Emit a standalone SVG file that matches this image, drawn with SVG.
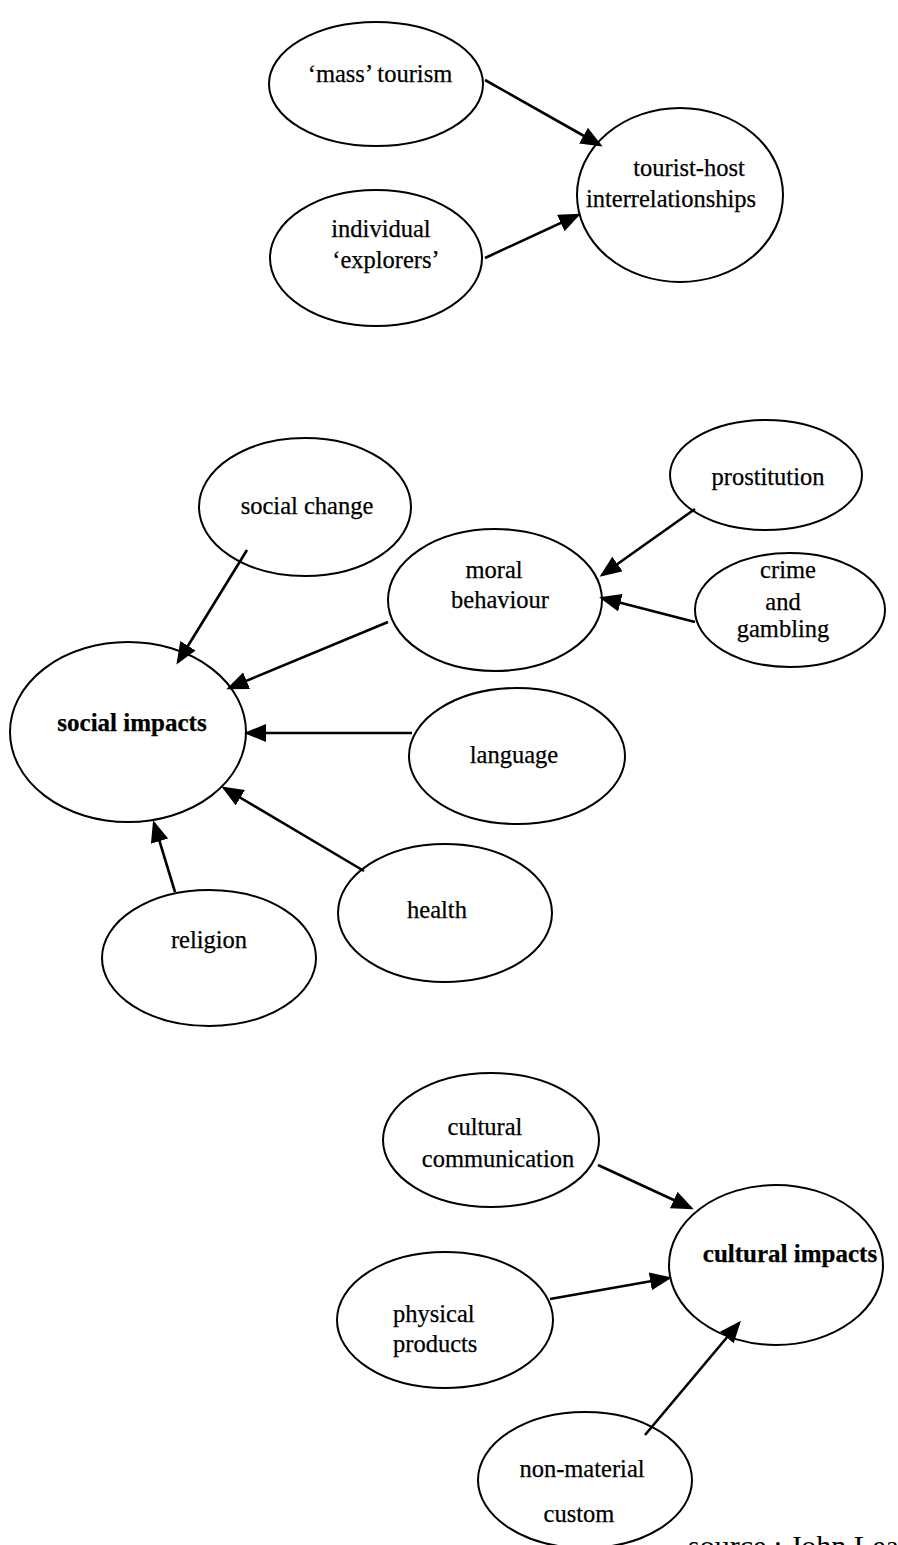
<svg xmlns="http://www.w3.org/2000/svg" width="898" height="1545" viewBox="0 0 898 1545">
<style>
  .node ellipse { fill: #ffffff; stroke: #000000; stroke-width: 2; }
  .node text { font-family: "Liberation Serif", "Times New Roman", serif; font-size: 24.5px; fill: #000000; stroke: #000000; stroke-width: 0.25; text-anchor: middle; }
  .node text.b { font-weight: bold; font-size: 25px; }
  .node text.l { text-anchor: start; }
  #connectors line { stroke: #000000; stroke-width: 2.6; marker-end: url(#arrow); }
  .src { font-family: "Liberation Serif", "Times New Roman", serif; font-size: 30px; fill: #000000; }
</style>
<defs>
  <marker id="arrow" markerUnits="userSpaceOnUse" markerWidth="24" markerHeight="20" refX="19" refY="9" orient="auto">
    <path d="M0,0 L22,9 L0,18 z" fill="#000000"/>
  </marker>
</defs>
<rect width="898" height="1545" fill="#ffffff"/>

<g id="mass-tourism" class="node">
  <ellipse cx="376" cy="84" rx="107" ry="62"/>
  <text x="380" y="82">‘mass’ tourism</text>
</g>
<g id="individual-explorers" class="node">
  <ellipse cx="376" cy="258" rx="106" ry="68"/>
  <text x="381" y="237">individual</text>
  <text x="386" y="268">‘explorers’</text>
</g>
<g id="tourist-host" class="node">
  <ellipse cx="680" cy="195" rx="103" ry="87"/>
  <text x="689" y="176">tourist-host</text>
  <text x="671" y="207">interrelationships</text>
</g>

<g id="social-change" class="node">
  <ellipse cx="305" cy="507" rx="106" ry="69"/>
  <text x="307" y="514">social change</text>
</g>
<g id="prostitution" class="node">
  <ellipse cx="766" cy="475" rx="96" ry="55"/>
  <text x="768" y="485">prostitution</text>
</g>
<g id="moral-behaviour" class="node">
  <ellipse cx="495" cy="600" rx="107" ry="71"/>
  <text x="494" y="578">moral</text>
  <text x="500" y="608">behaviour</text>
</g>
<g id="crime-gambling" class="node">
  <ellipse cx="790" cy="610" rx="95" ry="57"/>
  <text x="788" y="578">crime</text>
  <text x="783" y="610">and</text>
  <text x="783" y="637">gambling</text>
</g>
<g id="social-impacts" class="node">
  <ellipse cx="128" cy="732" rx="118" ry="90"/>
  <text class="b" x="132" y="731">social impacts</text>
</g>
<g id="language" class="node">
  <ellipse cx="517" cy="756" rx="108" ry="68"/>
  <text x="514" y="763">language</text>
</g>
<g id="health" class="node">
  <ellipse cx="445" cy="913" rx="107" ry="69"/>
  <text x="437" y="918">health</text>
</g>
<g id="religion" class="node">
  <ellipse cx="209" cy="958" rx="107" ry="68"/>
  <text x="209" y="948">religion</text>
</g>

<g id="cultural-communication" class="node">
  <ellipse cx="491" cy="1140" rx="108" ry="67"/>
  <text x="485" y="1135">cultural</text>
  <text x="498" y="1167">communication</text>
</g>
<g id="cultural-impacts" class="node">
  <ellipse cx="776" cy="1265" rx="107" ry="80"/>
  <text class="b" x="790" y="1262">cultural impacts</text>
</g>
<g id="physical-products" class="node">
  <ellipse cx="445" cy="1320" rx="108" ry="68"/>
  <text class="l" x="393" y="1322">physical</text>
  <text class="l" x="393" y="1352">products</text>
</g>
<g id="non-material-custom" class="node">
  <ellipse cx="585" cy="1480" rx="107" ry="68"/>
  <text x="582" y="1477">non-material</text>
  <text x="579" y="1522">custom</text>
</g>

<g id="connectors">
  <line x1="485" y1="80" x2="600" y2="145"/>
  <line x1="485" y1="258" x2="578" y2="215"/>
  <line x1="247" y1="550" x2="178" y2="662"/>
  <line x1="388" y1="622" x2="229" y2="688"/>
  <line x1="695" y1="509" x2="602" y2="575"/>
  <line x1="695" y1="622" x2="602" y2="598"/>
  <line x1="412" y1="733" x2="247" y2="733"/>
  <line x1="364" y1="871" x2="224" y2="788"/>
  <line x1="175" y1="892" x2="154" y2="823"/>
  <line x1="598" y1="1165" x2="691" y2="1208"/>
  <line x1="550" y1="1299" x2="669" y2="1278"/>
  <line x1="645" y1="1435" x2="739" y2="1323"/>
</g>

<text class="src" x="688" y="1556">source : John Lea</text>
</svg>
